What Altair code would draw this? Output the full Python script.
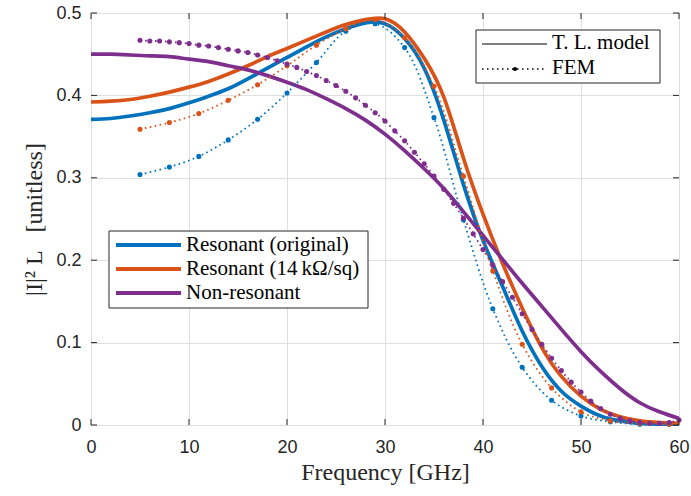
import altair as alt
import pandas as pd

SERIES = ["Resonant (original)", "Resonant (14\u2009k\u03a9/sq)", "Non-resonant"]
COLORS = ["#0072BD", "#D95319", "#7E2F8E"]

# Transmission-line model (solid curves), frequency in GHz
tl_freq = list(range(0, 61, 2))
tl_orig = [0.371, 0.372, 0.375, 0.379, 0.384, 0.391, 0.399, 0.408, 0.420, 0.433,
           0.446, 0.459, 0.471, 0.481, 0.488, 0.487, 0.469, 0.433, 0.370, 0.292,
           0.224, 0.168, 0.114, 0.071, 0.041, 0.023, 0.011, 0.005, 0.002, 0.001, 0.001]
tl_14k = [0.392, 0.393, 0.395, 0.399, 0.404, 0.410, 0.417, 0.426, 0.436, 0.447,
          0.457, 0.467, 0.477, 0.486, 0.492, 0.493, 0.477, 0.445, 0.398, 0.324,
          0.256, 0.196, 0.142, 0.094, 0.059, 0.035, 0.019, 0.010, 0.005, 0.003, 0.002]
tl_nonres = [0.450, 0.450, 0.449, 0.448, 0.447, 0.444, 0.441, 0.436, 0.431, 0.424,
             0.416, 0.407, 0.396, 0.384, 0.370, 0.353, 0.333, 0.311, 0.287, 0.259,
             0.230, 0.201, 0.172, 0.144, 0.116, 0.089, 0.065, 0.044, 0.027, 0.016, 0.008]

# FEM results (dotted curves with markers)
fem_res_freq = list(range(5, 60, 3))
fem_orig = [0.304, 0.313, 0.326, 0.346, 0.371, 0.403, 0.440, 0.478, 0.487, 0.458,
            0.373, 0.249, 0.141, 0.070, 0.030, 0.011, 0.004, 0.001, 0.001]
fem_14k = [0.359, 0.367, 0.378, 0.394, 0.413, 0.436, 0.461, 0.481, 0.492, 0.470,
           0.411, 0.302, 0.187, 0.098, 0.045, 0.016, 0.005, 0.002, 0.001]
fem_nonres_freq = list(range(5, 61))
fem_nonres = [0.467, 0.466, 0.466, 0.465, 0.464, 0.463, 0.461, 0.460, 0.458, 0.456,
              0.454, 0.452, 0.449, 0.446, 0.442, 0.438, 0.434, 0.429, 0.424, 0.418,
              0.412, 0.405, 0.397, 0.388, 0.379, 0.369, 0.357, 0.345, 0.331, 0.317,
              0.302, 0.286, 0.269, 0.251, 0.232, 0.213, 0.194, 0.174, 0.155, 0.135,
              0.116, 0.098, 0.081, 0.066, 0.052, 0.040, 0.029, 0.020, 0.013, 0.008,
              0.005, 0.003, 0.002, 0.002, 0.003, 0.006]

x_ticks = [0, 10, 20, 30, 40, 50, 60]
y_ticks = [0, 0.1, 0.2, 0.3, 0.4, 0.5]

W, H = 588, 412

tl_df = pd.concat([
    pd.DataFrame({"f": tl_freq, "v": tl_orig, "s": SERIES[0], "o": 0}),
    pd.DataFrame({"f": tl_freq, "v": tl_14k, "s": SERIES[1], "o": 1}),
    pd.DataFrame({"f": tl_freq, "v": tl_nonres, "s": SERIES[2], "o": 2}),
])
fem_df = pd.concat([
    pd.DataFrame({"f": fem_res_freq, "v": fem_orig, "s": SERIES[0], "o": 0}),
    pd.DataFrame({"f": fem_res_freq, "v": fem_14k, "s": SERIES[1], "o": 1}),
    pd.DataFrame({"f": fem_nonres_freq, "v": fem_nonres, "s": SERIES[2], "o": 2}),
])

SANS = "Liberation Sans"
SERIF = "Liberation Serif"
INK = "#262626"
NB = "\u00a0"

xs = alt.Scale(domain=[0, 60], nice=False, zero=False)
ys = alt.Scale(domain=[0, 0.5], nice=False)
cs = alt.Scale(domain=SERIES, range=COLORS)

x_axis = alt.Axis(values=x_ticks, title="Frequency [GHz]", format="d", grid=True,
                  ticks=False, domain=False, labelPadding=13, titlePadding=4,
                  labelFont=SANS, labelFontSize=18, labelColor=INK,
                  titleFont=SERIF, titleFontSize=24, titleFontWeight="normal", titleColor=INK,
                  gridColor="#dfdfdf", labelFlush=False)
y_axis = alt.Axis(values=y_ticks, title="|I|\u00b2" + NB + "L" + NB * 3 + "[unitless]", grid=True,
                  ticks=False, domain=False, labelPadding=10, titlePadding=9,
                  labelFont=SANS, labelFontSize=18, labelColor=INK,
                  labelExpr="datum.value == 0 ? '0' : format(datum.value, '.1f')",
                  titleFont=SERIF, titleFontSize=24, titleFontWeight="normal", titleColor=INK,
                  gridColor="#dfdfdf")

X = alt.X("f:Q", scale=xs, axis=x_axis)
Y = alt.Y("v:Q", scale=ys, axis=y_axis)
C = alt.Color("s:N", scale=cs, legend=None)

tl_lines = alt.Chart(tl_df).mark_line(strokeWidth=3.7, interpolate="natural").encode(
    x=X, y=Y, color=C, detail="s:N", order="o:Q")

fem_lines = alt.Chart(fem_df).mark_line(strokeWidth=1.8, strokeDash=[1.6, 3.4],
                                        interpolate="catmull-rom").encode(
    x=X, y=Y, color=C, detail="s:N")
fem_pts = alt.Chart(fem_df).mark_circle(size=26, opacity=1).encode(x=X, y=Y, color=C)

xt = pd.DataFrame({"f": x_ticks})
yt = pd.DataFrame({"v": y_ticks})
tick_layers = [
    alt.Chart(xt).mark_rule(color=INK, strokeWidth=1).encode(x=X, y=alt.value(H), y2=alt.value(H - 6)),
    alt.Chart(xt).mark_rule(color=INK, strokeWidth=1).encode(x=X, y=alt.value(0), y2=alt.value(6)),
    alt.Chart(yt).mark_rule(color=INK, strokeWidth=1).encode(y=Y, x=alt.value(0), x2=alt.value(6)),
    alt.Chart(yt).mark_rule(color=INK, strokeWidth=1).encode(y=Y, x=alt.value(W), x2=alt.value(W - 6)),
]

one = pd.DataFrame({"k": [0]})


def box(x1, y1, x2, y2):
    return alt.Chart(one).mark_rect(fill="white", stroke=INK, strokeWidth=1).encode(
        x=alt.value(x1), x2=alt.value(x2), y=alt.value(y1), y2=alt.value(y2))


def label(x, y, txt):
    return alt.Chart(one).mark_text(align="left", baseline="middle", font=SERIF,
                                    fontSize=21, color="black").encode(
        x=alt.value(x), y=alt.value(y), text=alt.value(txt))


legend_layers = [box(18, 218, 277, 295)]
for i, (name, col) in enumerate(zip(SERIES, COLORS)):
    yy = 232 + 24 * i
    legend_layers.append(alt.Chart(one).mark_rule(color=col, strokeWidth=4).encode(
        x=alt.value(25), x2=alt.value(90), y=alt.value(yy)))
    legend_layers.append(label(95, yy, name))

legend_layers.append(box(385, 17, 569, 70))
legend_layers.append(alt.Chart(one).mark_rule(color="black", strokeWidth=1).encode(
    x=alt.value(391), x2=alt.value(456), y=alt.value(31)))
legend_layers.append(label(461, 30, "T. L. model"))
legend_layers.append(alt.Chart(one).mark_rule(color="black", strokeWidth=1.5,
                                             strokeDash=[1.5, 3.5]).encode(
    x=alt.value(391), x2=alt.value(456), y=alt.value(56)))
legend_layers.append(alt.Chart(one).mark_circle(color="black", size=18, opacity=1).encode(
    x=alt.value(424), y=alt.value(56)))
legend_layers.append(label(461, 55, "FEM"))

chart = alt.layer(tl_lines, fem_lines, fem_pts, *tick_layers, *legend_layers).properties(
    width=W, height=H,
    autosize=alt.AutoSizeParams(type="none"),
    padding={"left": 91, "top": 13, "right": 12, "bottom": 71},
).configure_view(stroke=INK, strokeWidth=1).configure(background="white")

chart.save("out.html", embed_options={"renderer": "svg", "actions": False})
